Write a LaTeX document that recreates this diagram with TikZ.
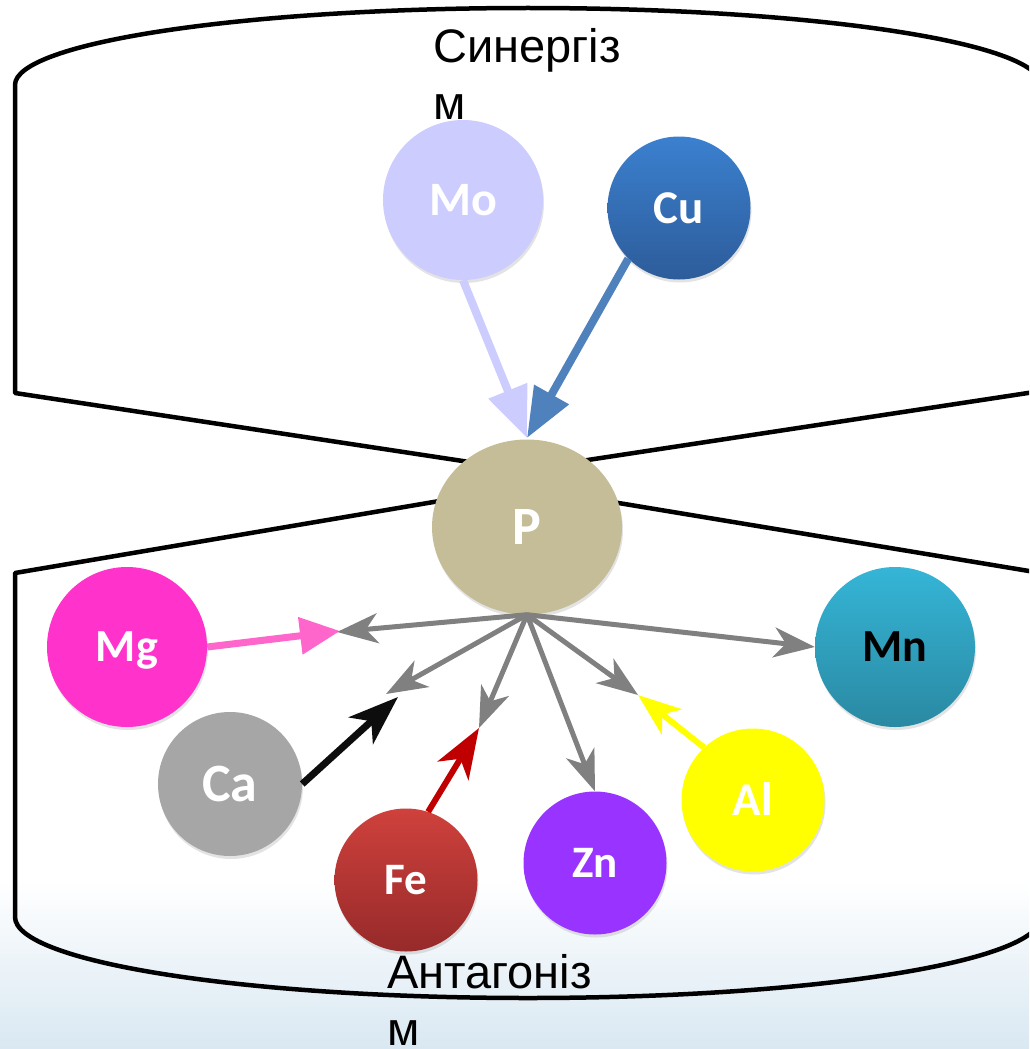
\documentclass[tikz,border=0pt]{standalone}
\usepackage{fontspec}
\setmainfont{Liberation Sans}
\newfontfamily\labfont{Carlito}
\usetikzlibrary{arrows.meta,shadows,shapes.geometric}
\definecolor{moC}{HTML}{CCCCFF}
\definecolor{cuArrow}{HTML}{4F81BD}
\definecolor{cuTop}{HTML}{3B80CF}
\definecolor{cuBot}{HTML}{2D5C9A}
\definecolor{pC}{HTML}{C4BD97}
\definecolor{mgC}{HTML}{FF33CC}
\definecolor{mgArrow}{HTML}{FF66CC}
\definecolor{mnTop}{HTML}{35B5D7}
\definecolor{mnBot}{HTML}{2A89A2}
\definecolor{caC}{HTML}{A6A6A6}
\definecolor{feTop}{HTML}{CF413C}
\definecolor{feBot}{HTML}{962A2A}
\definecolor{znC}{HTML}{9933FF}
\definecolor{alC}{HTML}{FFFF00}
\definecolor{grayC}{HTML}{808080}
\definecolor{blackC}{HTML}{0D0D0D}
\definecolor{redC}{HTML}{C00000}
\definecolor{bgBlue}{HTML}{D9E8F2}
\begin{document}
\begin{tikzpicture}[x=1pt,y=-1pt,
  outline/.style={line width=4.5pt, line join=round},
  elem/.style={circle, minimum size=#1, inner sep=0pt, text=white,
    drop shadow={opacity=0.22, shadow xshift=1pt, shadow yshift=-3pt}},
  lbl/.style={font=\labfont\bfseries\fontsize{#1}{#1}\selectfont,
    text height={0.644*#1}, text depth=0pt},
  caption/.style={font=\fontsize{47}{57}\selectfont, align=left, inner sep=0pt, anchor=north west},
  grayarrow/.style={line width=5pt, grayC, -{Stealth[length=41pt,width=30pt,inset=12pt]}},
]
\useasboundingbox (0,0) rectangle (1029,1049);
\clip (0,0) rectangle (1029,1049);
\fill[white] (0,0) rectangle (1029,1049);
\shade[top color=white, bottom color=bgBlue] (0,880) rectangle (1029,1049);

% outlines
\draw[outline] (15,393) -- (15,85) .. controls (15,42.5) and (245,8) .. (528,8)
  .. controls (811,8) and (1041,42.5) .. (1041,85) -- (1041,391) -- (522,470) -- cycle;
\draw[outline] (15,573) -- (15,917) .. controls (15,962) and (245,998) .. (528,998)
  .. controls (811,998) and (1041,962) .. (1041,917) -- (1041,573) -- (522,487) -- cycle;

% captions
\node[caption] (syn) at (433,28) {Синергіз\\м};
\node[caption] (ant) at (387,954) {Антагоніз\\м};

% elements
\node[elem=160pt, fill=moC, lbl=48] (Mo) at (463,200) {Mo};
\node[elem=143pt, top color=cuTop, bottom color=cuBot, lbl=47] (Cu) at (679,208) {Cu};
\node[ellipse, minimum width=190pt, minimum height=175pt, inner sep=0pt, fill=pC, text=white,
  drop shadow={opacity=0.22, shadow xshift=1pt, shadow yshift=-3pt}, lbl=54] (P) at (527,527) {P};
\node[elem=160pt, fill=mgC, lbl=46] (Mg) at (127,647) {Mg};
\node[elem=160pt, top color=mnTop, bottom color=mnBot, text=black, lbl=46] (Mn) at (895,647) {Mn};
\node[elem=144pt, fill=caC, lbl=54] (Ca) at (230,784) {Ca};
\node[elem=143pt, top color=feTop, bottom color=feBot, lbl=45] (Fe) at (406,880) {Fe};
\node[elem=143pt, fill=znC, lbl=45] (Zn) at (595,863) {Zn};
\node[elem=143pt, fill=alC, lbl=47] (Al) at (753,800) {Al};

% target points
\coordinate (apex) at (527,438);
\coordinate (tMg) at (340,631);
\coordinate (gMg) at (337,632);
\coordinate (tCa) at (398,697);
\coordinate (gCa) at (386,694);
\coordinate (tFe) at (479,728);
\coordinate (tAl) at (638,695);

% synergy arrows
\draw[line width=8pt, moC, -{Triangle[length=51pt,width=40pt]}] (Mo.south) -- (apex);
\draw[line width=8pt, cuArrow, -{Triangle[length=50pt,width=38pt]}] (Cu.225) -- (apex);

% antagonist arrows
\draw[line width=7pt, mgArrow, -{Triangle[length=40pt,width=36pt]}] (Mg.east) -- (tMg);
\draw[line width=7pt, blackC, -{Stealth[length=50pt,width=36pt,inset=14pt]}] (Ca.east) -- (tCa);
\draw[line width=6pt, redC, -{Stealth[length=50pt,width=36pt,inset=14pt]}] (Fe.72) -- (tFe);
\draw[line width=6pt, alC, -{Stealth[length=43pt,width=32pt,inset=12pt]}] (Al.133) -- (tAl);

% gray arrows from P
\draw[grayarrow] (P.south) -- (gMg);
\draw[grayarrow] (P.south) -- (gCa);
\draw[grayarrow] (P.south) -- (tFe);
\draw[grayarrow] (P.south) -- (Zn.north);
\draw[grayarrow] (P.south) -- (tAl);
\draw[grayarrow] (P.south) -- (Mn.west);
\end{tikzpicture}
\end{document}
